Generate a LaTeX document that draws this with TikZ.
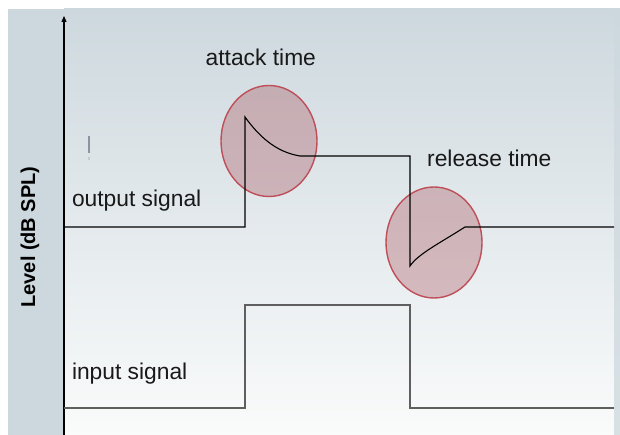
\documentclass[tikz,border=0pt]{standalone}
\usepackage{fontspec}
\setmainfont{Liberation Sans}
\usetikzlibrary{arrows.meta}

\definecolor{panel}{RGB}{205,216,222}
\definecolor{panelbottom}{RGB}{250,251,251}
\definecolor{edgestrip}{RGB}{216,224,228}
\definecolor{blobfill}{RGB}{160,60,70}
\definecolor{blobedge}{RGB}{190,78,88}
\definecolor{inputline}{RGB}{95,95,95}
\definecolor{tickgray}{RGB}{140,148,160}

\tikzset{
  lbl/.style={anchor=base west, inner sep=0pt, text=black!90,
              font=\fontsize{22.8}{26}\selectfont},
  blob/.style={draw=blobedge, line width=1.4pt,
               fill=blobfill, fill opacity=0.3},
  outsig/.style={draw=black, line width=1.1pt, line join=miter},
  insig/.style={draw=inputline, line width=2pt, line join=miter},
}

\begin{document}
\begin{tikzpicture}[x=1pt,y=1pt]
  \useasboundingbox (0,0) rectangle (620,435);

  % backdrop: side strip, shaded plot area, thin right strip
  \fill[panel] (8,0) rectangle (64,426);
  \shade[top color=panel, bottom color=panelbottom] (64,0) rectangle (614,426);
  \shade[top color=panel, bottom color=edgestrip] (614,0) rectangle (620,426);

  % key points of the two traces
  \coordinate (o0) at (64,208);
  \coordinate (o1) at (245,208);
  \coordinate (o2) at (245,318);
  \coordinate (o3) at (300,279);
  \coordinate (o4) at (410,279);
  \coordinate (o5) at (410,169);
  \coordinate (o6) at (465,208);
  \coordinate (o7) at (614,208);
  \coordinate (i0) at (64,27);
  \coordinate (i1) at (245,27);
  \coordinate (i2) at (245,130);
  \coordinate (i3) at (410,130);
  \coordinate (i4) at (410,27);
  \coordinate (i5) at (614,27);

  % highlighted regions
  \path[blob] (269,294) ellipse [x radius=48, y radius=55.5];
  \path[blob] (434,192.5) ellipse [x radius=48, y radius=55.5];

  % vertical axis
  \coordinate (ax0) at (64,0);
  \coordinate (ax1) at (64,419);
  \draw[line width=1.1pt, -{Triangle[length=6pt,width=5pt]}] (ax0) -- (ax1);

  % output signal
  \draw[outsig] (o0) -- (o1) -- (o2)
    .. controls (258,300) and (275,283) .. (o3) -- (o4) -- (o5)
    .. controls (418,181) and (440,192) .. (o6) -- (o7);

  % input signal
  \draw[insig] (i0) -- (i1) -- (i2) -- (i3) -- (i4) -- (i5);

  % small stray tick
  \draw[tickgray, line width=1.5pt] (89,299) -- (89,282);
  \draw[tickgray!50, line width=1.2pt] (89,278) -- (89,275);

  % labels
  \node[lbl] (tAttack) at (205.5,369) {attack time};
  \node[lbl] (tRelease) at (427,268.3) {release time};
  \node[lbl] (tOut) at (71.8,228.3) {output signal};
  \node[lbl] (tIn) at (71.8,55) {input signal};
  \node[rotate=90, inner sep=0pt, font=\bfseries\fontsize{20}{24}\selectfont]
    (tLevel) at (30,198) {Level (dB SPL)};
\end{tikzpicture}
\end{document}
